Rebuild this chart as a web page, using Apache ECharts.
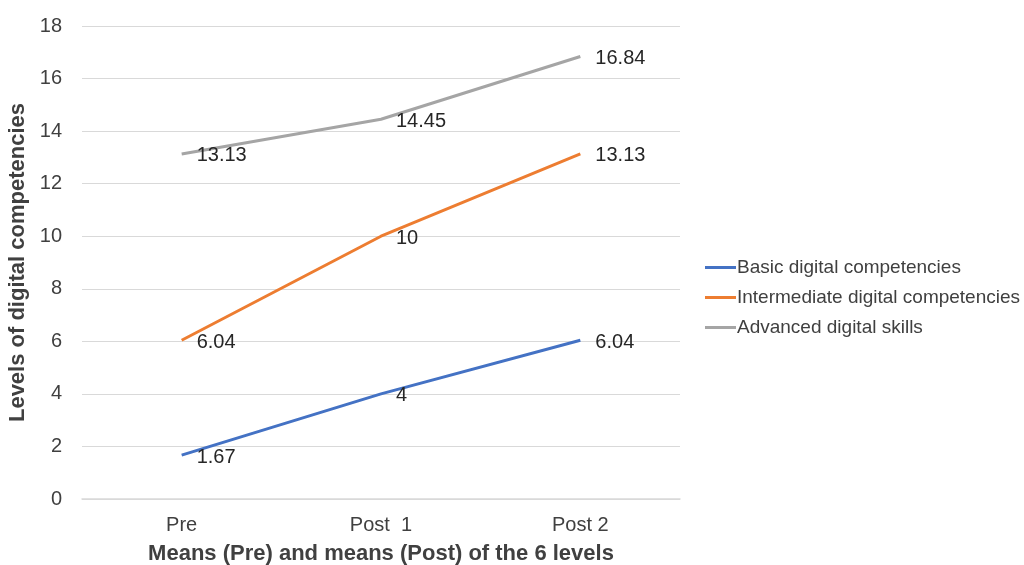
<!DOCTYPE html>
<html><head><meta charset="utf-8">
<script src="https://cdn.jsdelivr.net/npm/echarts@6/dist/echarts.min.js"></script>
<style>html,body{margin:0;padding:0;background:#fff}#c{width:1024px;height:565px}</style>
</head><body><div id="c"></div>
<script>
const categories = ['Pre', 'Post  1', 'Post 2'];
const basic = [1.67, 4, 6.04];
const intermediate = [6.04, 10, 13.13];
const advanced = [13.13, 14.45, 16.84];
const seriesNames = ['Basic digital competencies', 'Intermediate digital competencies', 'Advanced digital skills'];
const colors = ['#4472C4', '#ED7D31', '#A5A5A5'];
const font = 'Liberation Sans, Arial, sans-serif';
const chart = echarts.init(document.getElementById('c'));
function mk(name, data, color) {
  return {
    name, type: 'line', data, symbol: 'circle', symbolSize: 0, showSymbol: true, color,
    lineStyle: { width: 3, color },
    label: { show: true, position: 'right', distance: 5, offset: [10, 2], color: '#262626', fontSize: 20, fontFamily: font },
    emphasis: { disabled: true }
  };
}
chart.setOption({
  animation: false,
  grid: { left: 82, right: 344, top: 26, bottom: 66, outerBoundsMode: 'none', containLabel: false },
  legend: {
    orient: 'vertical', left: 705, top: 258, padding: 0, itemWidth: 31, itemHeight: 3, itemGap: 11,
    icon: 'rect',
    textStyle: { fontSize: 19, color: '#404040', fontFamily: font, padding: [0, 0, 0, -4] },
    data: seriesNames
  },
  xAxis: {
    type: 'category', data: categories, boundaryGap: true,
    axisLine: { lineStyle: { color: '#d9d9d9', width: 1.5 } },
    axisTick: { show: false },
    axisLabel: { color: '#404040', fontSize: 20, fontFamily: font, margin: 16 },
    name: 'Means (Pre) and means (Post) of the 6 levels', nameLocation: 'middle', nameGap: 44,
    nameTextStyle: { fontSize: 22, fontWeight: 'bold', color: '#404040', fontFamily: font }
  },
  yAxis: {
    type: 'value', min: 0, max: 18, interval: 2,
    axisLine: { show: false }, axisTick: { show: false },
    splitLine: { lineStyle: { color: '#d9d9d9', width: 1.2 } },
    axisLabel: { color: '#404040', fontSize: 20, fontFamily: font, margin: 20 },
    name: 'Levels of digital competencies', nameLocation: 'middle', nameGap: 50,
    nameTextStyle: { fontSize: 22, fontWeight: 'bold', color: '#404040', fontFamily: font }
  },
  series: [
    mk(seriesNames[0], basic, colors[0]),
    mk(seriesNames[1], intermediate, colors[1]),
    mk(seriesNames[2], advanced, colors[2])
  ]
});
</script></body></html>
